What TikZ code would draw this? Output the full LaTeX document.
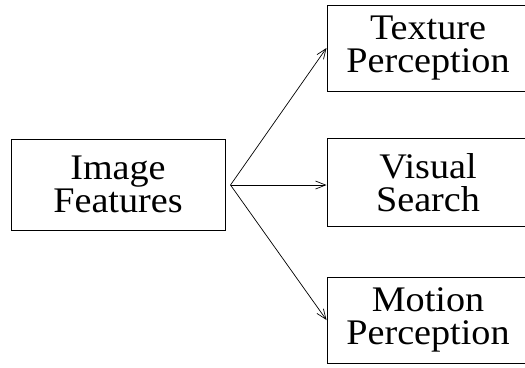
\documentclass[tikz,border=0pt]{standalone}
\usepackage{fontspec}
\setmainfont{Liberation Serif}[FakeStretch=1.06]
\usetikzlibrary{arrows.meta}
\tikzset{box/.style={draw,line width=1pt,align=center,inner sep=0pt,
  font=\fontsize{36}{33}\selectfont}}

\begin{document}
\begin{tikzpicture}[x=1pt,y=-1pt,>={Straight Barb[length=10pt,width=8pt]},line width=0.7pt]
  \useasboundingbox (0,0) rectangle (525,367);
  \node[box,minimum width=214pt,minimum height=91pt] (img) at (118,184.5) {Image\\Features};
  \node[box,minimum width=202pt,minimum height=86pt] (tex) at (428,48) {Texture\\Perception};
  \node[box,minimum width=202pt,minimum height=88pt] (vis) at (428,182.5) {Visual\\Search};
  \node[box,minimum width=202pt,minimum height=86pt] (mot) at (428,320) {Motion\\Perception};
  \coordinate (fork) at (230.5,185);
  \draw[->] (fork) to (tex.west);
  \draw[->] (fork) to (fork -| vis.west);
  \draw[->] (fork) to (mot.west);
\end{tikzpicture}
\end{document}
